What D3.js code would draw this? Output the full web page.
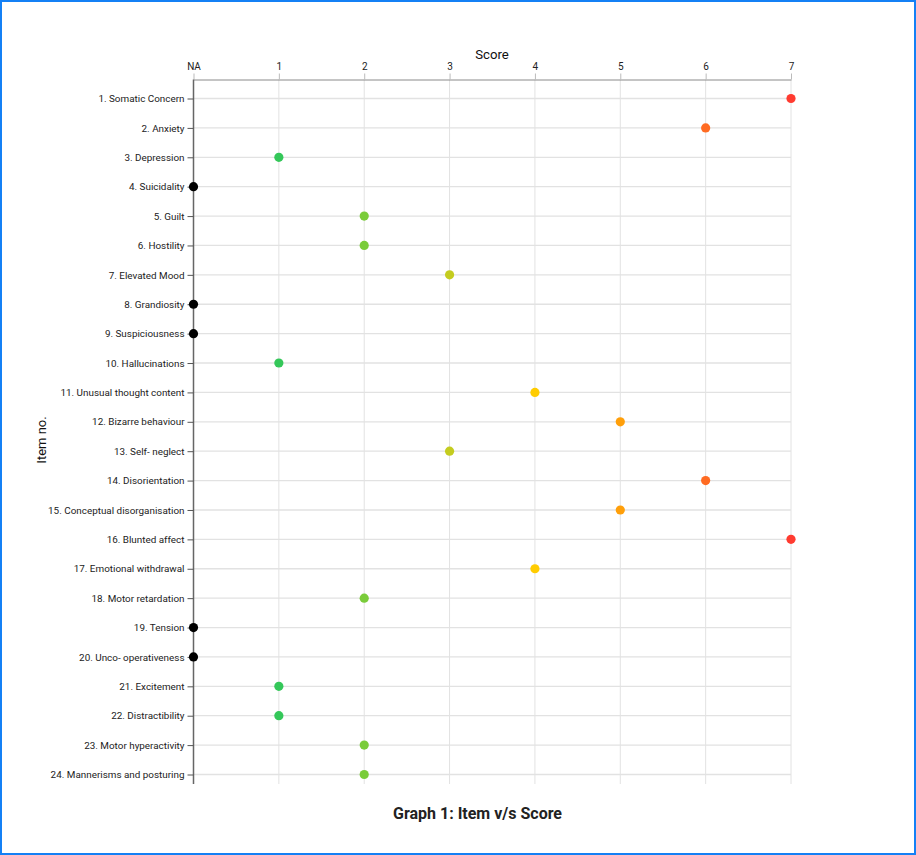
<!DOCTYPE html>
<html><head><meta charset="utf-8">
<script src="https://cdn.jsdelivr.net/npm/d3@7"></script>
<style>
html,body{margin:0;padding:0;background:#fff;}
#frame{position:absolute;left:0;top:0;width:912px;height:851px;border:2px solid #1480f5;}
svg{position:absolute;left:0;top:0;}
</style></head>
<body><div id="frame"></div><svg id="chart" width="916" height="855"></svg>
<script>
const items = ["1. Somatic Concern","2. Anxiety","3. Depression","4. Suicidality","5. Guilt","6. Hostility","7. Elevated Mood","8. Grandiosity","9. Suspiciousness","10. Hallucinations","11. Unusual thought content","12. Bizarre behaviour","13. Self- neglect","14. Disorientation","15. Conceptual disorganisation","16. Blunted affect","17. Emotional withdrawal","18. Motor retardation","19. Tension","20. Unco- operativeness","21. Excitement","22. Distractibility","23. Motor hyperactivity","24. Mannerisms and posturing"];
const scores = [7,6,1,0,2,2,3,0,0,1,4,5,3,6,5,7,4,2,0,0,1,1,2,2];
const scoreTicks = [0,1,2,3,4,5,6,7];
const scoreTickLabels = ["NA","1","2","3","4","5","6","7"];
const scoreColors = ["#000000","#34c759","#7acc3a","#c4cc1f","#ffcc00","#ff9f0a","#ff6b22","#ff3b30"];

(function(){
const svg = d3.select("#chart");
const x = d3.scaleLinear().domain([0,7]).range([193.5,791]);
const y = d3.scalePoint().domain(items).range([98.5,774.5]);
const yTop = 79.5, yBottom = 784;

// grid
svg.append("g").selectAll("line").data(scoreTicks).join("line")
  .attr("x1",d=>x(d)).attr("x2",d=>x(d)).attr("y1",yTop).attr("y2",yBottom)
  .attr("stroke","#e2e2e2").attr("stroke-width",1);
svg.append("g").selectAll("line").data(items).join("line")
  .attr("x1",x(0)).attr("x2",x(7)).attr("y1",d=>y(d)).attr("y2",d=>y(d))
  .attr("stroke","#e2e2e2").attr("stroke-width",1.3);

// x axis (top)
const xa = svg.append("g").attr("transform",`translate(0,${yTop})`)
  .call(d3.axisTop(x).tickValues(scoreTicks).tickFormat((d,i)=>scoreTickLabels[i]).tickSize(6).tickSizeOuter(0));
xa.select(".domain").attr("stroke","#8a8a8a");
xa.selectAll(".tick line").attr("stroke","#bbb");
xa.selectAll("text").attr("font-family","Roboto").attr("font-size",10).attr("fill","#222").attr("dy","-0.1em");

// y axis
const ya = svg.append("g").attr("transform",`translate(${x(0)},0)`)
  .call(d3.axisLeft(y).tickSize(6).tickSizeOuter(0));
ya.select(".domain").attr("d",`M0,${yTop}V${yBottom}`).attr("stroke","#666").attr("stroke-width",1.5);
ya.selectAll(".tick line").attr("stroke","#555");
ya.selectAll("text").attr("font-family","Roboto").attr("font-size",9.9).attr("fill","#222").attr("x",-9);

// dots
svg.append("g").selectAll("circle").data(items).join("circle")
  .attr("cx",(d,i)=>x(scores[i])).attr("cy",d=>y(d)).attr("r",4.6)
  .attr("fill",(d,i)=>scoreColors[scores[i]]);

// labels
svg.append("text").attr("x",492).attr("y",59).attr("text-anchor","middle")
  .attr("font-family","Roboto").attr("font-size",13.2).attr("fill","#111").text("Score");
svg.append("text").attr("transform","translate(46,440) rotate(-90)").attr("text-anchor","middle")
  .attr("font-family","Roboto").attr("font-size",13).attr("fill","#111").text("Item no.");
svg.append("text").attr("x",477.5).attr("y",819).attr("text-anchor","middle")
  .attr("font-family","Roboto").attr("font-weight","bold").attr("font-size",16).attr("fill","#222").text("Graph 1: Item v/s Score");
})();
</script></body></html>
